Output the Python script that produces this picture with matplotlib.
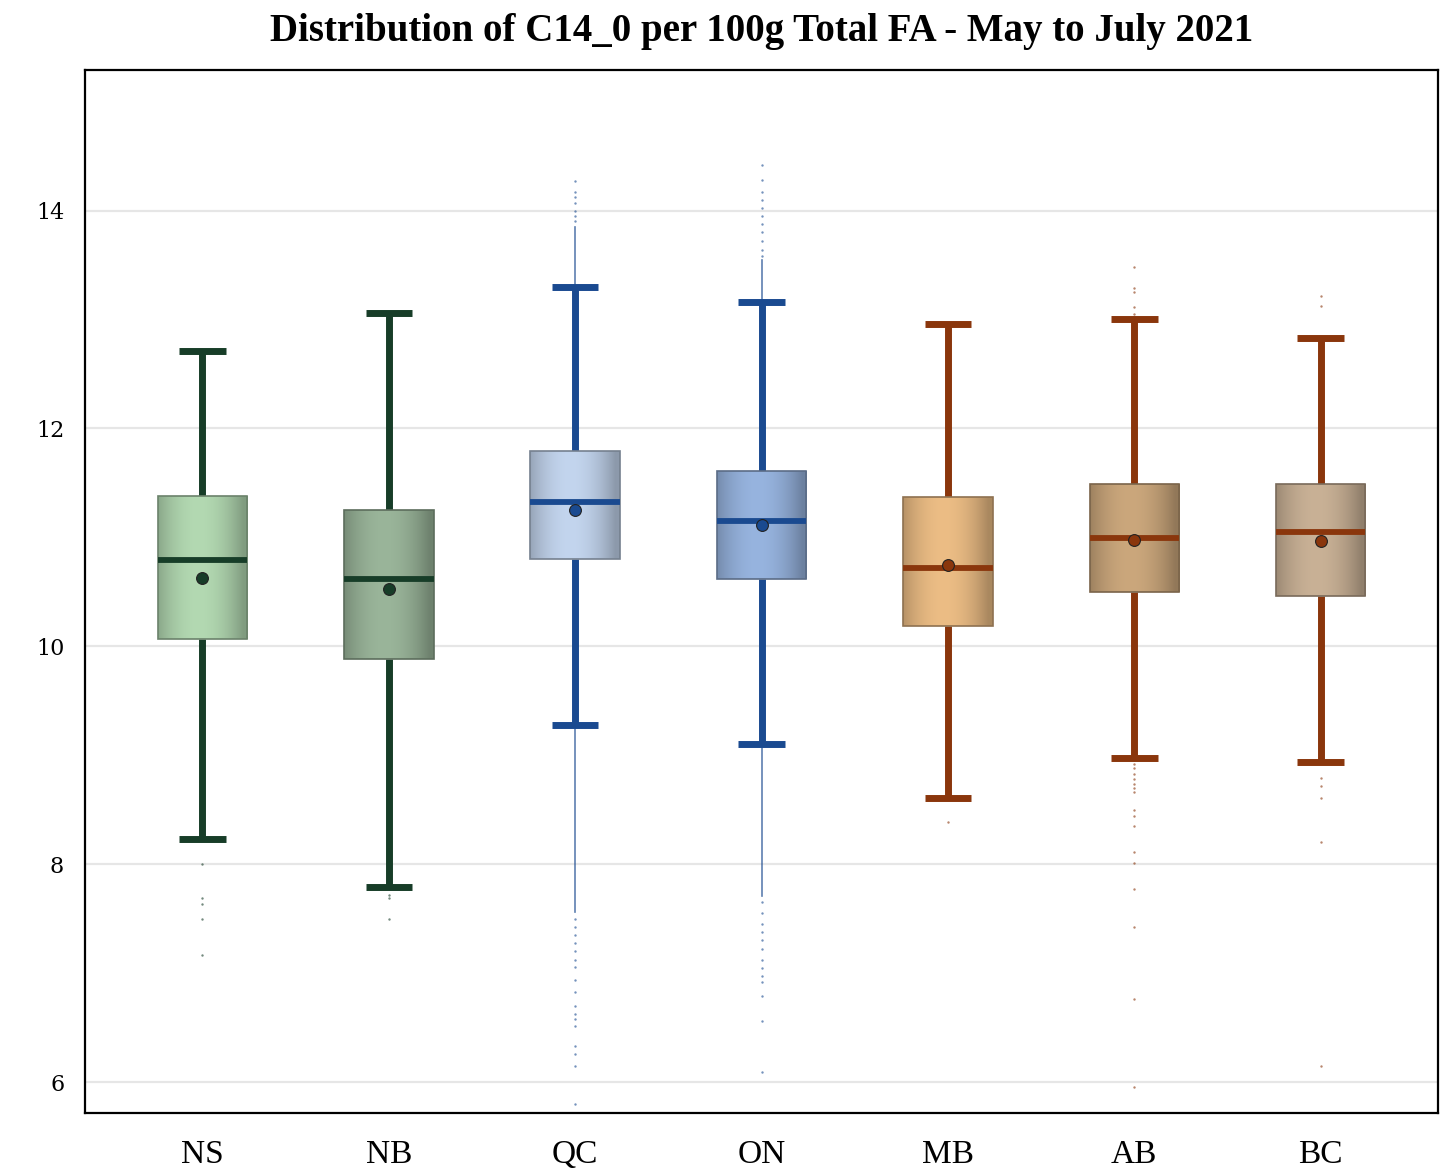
import matplotlib.pyplot as plt
import matplotlib.colors as mcolors
from matplotlib.patches import Rectangle
import numpy as np

# provinces and box statistics
provinces = ['NS', 'NB', 'QC', 'ON', 'MB', 'AB', 'BC']
whislo = [8.23, 7.79, 9.28, 9.10, 8.61, 8.97, 8.94]
q1 = [10.07, 9.88, 10.80, 10.62, 10.19, 10.50, 10.46]
med = [10.79, 10.62, 11.32, 11.15, 10.72, 10.99, 11.05]
mean = [10.63, 10.53, 11.25, 11.11, 10.75, 10.98, 10.97]
q3 = [11.38, 11.25, 11.79, 11.61, 11.37, 11.49, 11.49]
whishi = [12.71, 13.06, 13.30, 13.16, 12.96, 13.00, 12.83]

# individual outliers
outliers = [
    [8.00, 7.69, 7.63, 7.50, 7.17],
    [7.72, 7.69, 7.50],
    [14.27, 14.17, 14.12, 14.07, 14.00, 13.95, 13.90, 7.50, 7.42, 7.35, 7.28, 7.20, 7.12, 7.06,
     6.94, 6.83, 6.70, 6.62, 6.58, 6.51, 6.33, 6.26, 6.15, 5.80],
    [14.42, 14.28, 14.17, 14.10, 14.02, 13.95, 13.88, 13.80, 13.72, 13.64, 13.58,
     7.65, 7.55, 7.45, 7.38, 7.30, 7.22, 7.12, 7.05, 6.97, 6.92, 6.79, 6.56, 6.09],
    [8.39],
    [13.48, 13.29, 13.25, 13.11, 13.05, 8.92, 8.88, 8.83, 8.78, 8.74, 8.70, 8.66, 8.50, 8.44,
     8.35, 8.11, 8.01, 7.77, 7.42, 6.76, 5.95],
    [13.22, 13.12, 8.79, 8.72, 8.61, 8.20, 6.15],
]
# stretches where outliers are so dense they merge into a line (QC, ON)
dense_runs = [
    [], [],
    [(13.30, 13.85), (9.28, 7.56)],
    [(13.16, 13.55), (9.10, 7.71)],
    [], [], [],
]

box_colors = ['#b3d9b2', '#9ab59a', '#c3d5ee', '#97b4df', '#ecbd85', '#cba77c', '#c9b196']
line_colors = ['#173d28', '#173d28', '#1a4a90', '#1a4a90', '#8a360c', '#8a360c', '#8a360c']

plt.rcParams['font.family'] = ['Liberation Serif', 'DejaVu Serif']

fig = plt.figure(figsize=(14.54, 11.73), dpi=100)
ax = fig.add_axes([0.0585, 0.0512, 0.9305, 0.8891])

box_w = 0.48
cap_w = 0.25
x = np.arange(len(provinces))

# horizontal shading profile for the boxes
t = np.linspace(0, 1, 200)
shade = 0.72 + 0.28 * np.clip(1 - ((t - 0.45) / 0.5) ** 2, 0, 1)

for i, xi in enumerate(x):
    lc = line_colors[i]
    # dense outlier runs and scattered outliers
    for a, b in dense_runs[i]:
        ax.plot([xi, xi], [a, b], color=lc, lw=1.2, alpha=0.7, zorder=2)
    ax.scatter([xi] * len(outliers[i]), outliers[i], s=3, color=lc, alpha=0.6,
               linewidths=0, zorder=2)
    # whiskers + caps
    ax.plot([xi, xi], [whislo[i], q1[i]], color=lc, lw=5, zorder=3, solid_capstyle='butt')
    ax.plot([xi, xi], [q3[i], whishi[i]], color=lc, lw=5, zorder=3, solid_capstyle='butt')
    for w in (whislo[i], whishi[i]):
        ax.plot([xi - cap_w / 2, xi + cap_w / 2], [w, w], color=lc, lw=5, zorder=3,
                solid_capstyle='butt')
    # gradient box
    base = np.array(mcolors.to_rgb(box_colors[i]))
    img = np.clip(shade[None, :, None] * base[None, None, :], 0, 1)
    rect = Rectangle((xi - box_w / 2, q1[i]), box_w, q3[i] - q1[i], facecolor='none',
                     edgecolor=tuple(base * 0.6), lw=1.2, zorder=5)
    ax.add_patch(rect)
    im = ax.imshow(img, extent=[xi - box_w / 2, xi + box_w / 2, q1[i], q3[i]],
                   aspect='auto', zorder=4, interpolation='bilinear')
    im.set_clip_path(rect)
    # median and mean
    ax.plot([xi - box_w / 2, xi + box_w / 2], [med[i], med[i]], color=lc, lw=4.2,
            zorder=6, solid_capstyle='butt')
    ax.plot(xi, mean[i], 'o', color=lc, markersize=8.5, markeredgecolor='#222222',
            markeredgewidth=0.8, zorder=7)

ax.set_xlim(-0.63, 6.63)
ax.set_ylim(5.716, 15.29)
ax.set_xticks(x)
ax.set_xticklabels(provinces, fontsize=24)
ax.set_yticks([6, 8, 10, 12, 14])
ax.tick_params(axis='both', length=0)
ax.tick_params(axis='y', labelsize=16, pad=15, labelfontfamily='DejaVu Serif')
ax.tick_params(axis='x', pad=19)
ax.grid(axis='y', color='#e6e6e6', lw=1.6)
ax.set_axisbelow(True)
for s in ax.spines.values():
    s.set_linewidth(1.6)
    s.set_color('black')

ax.set_title('Distribution of C14_0 per 100g Total FA - May to July 2021',
             fontsize=28, fontweight='bold', pad=21)

fig.savefig('out.png', dpi=100)
